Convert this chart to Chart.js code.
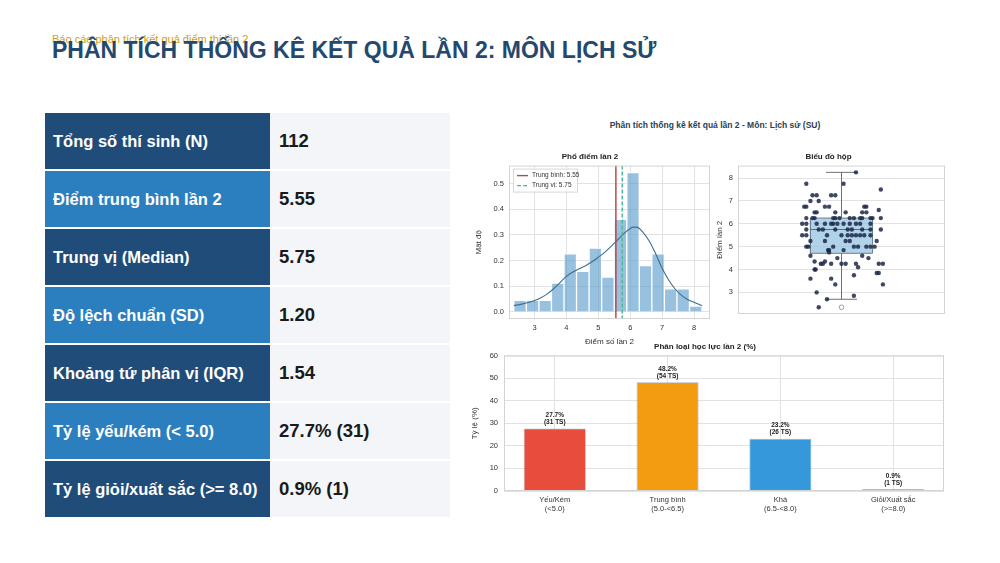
<!DOCTYPE html>
<html>
<head>
<meta charset="utf-8">
<script src="https://cdn.jsdelivr.net/npm/chart.js@4.4.0/dist/chart.umd.min.js"></script>
<style>
body{margin:0;width:1000px;height:563px;background:#fff;position:relative;overflow:hidden;font-family:"Liberation Sans",Arial,sans-serif}
.kicker{position:absolute;left:52px;top:33px;font-size:11px;color:#c9a227;white-space:nowrap}
h1{position:absolute;left:52px;top:39px;margin:0;font-size:23px;line-height:23px;font-weight:bold;color:#23496f;white-space:nowrap}
#stats{position:absolute;left:45px;top:113px;width:405px}
.row{display:flex;height:56px;margin-bottom:2px}
.row .k{width:225px;color:#fff;font-weight:bold;font-size:16.5px;display:flex;align-items:center;padding-left:8px;box-sizing:border-box}
.row .v{flex:1;background:#f3f5f9;color:#1a1a1a;font-weight:bold;font-size:18.5px;display:flex;align-items:center;padding-left:9px}
.supt{position:absolute;left:460px;width:510px;top:120px;text-align:center;font-size:8.5px;font-weight:bold;color:#2c3e50}
canvas{position:absolute}
#hist{left:470px;top:148px}
#box{left:712px;top:148px}
#bars{left:466px;top:338px}
</style>
</head>
<body>
<div class="kicker">Báo cáo phân tích kết quả điểm thi lần 2</div>
<h1>PHÂN TÍCH THỐNG KÊ KẾT QUẢ LẦN 2: MÔN LỊCH SỬ</h1>
<div id="stats"></div>
<div class="supt">Phân tích thống kê kết quả lần 2 - Môn: Lịch sử (SU)</div>
<canvas id="hist" width="245" height="200"></canvas>
<canvas id="box" width="243" height="200"></canvas>
<canvas id="bars" width="490" height="185"></canvas>
<script>
// summary table
const statLabels = ['Tổng số thí sinh (N)', 'Điểm trung bình lần 2', 'Trung vị (Median)', 'Độ lệch chuẩn (SD)',
    'Khoảng tứ phân vị (IQR)', 'Tỷ lệ yếu/kém (< 5.0)', 'Tỷ lệ giỏi/xuất sắc (>= 8.0)'];
const statValues = ['112', '5.55', '5.75', '1.20', '1.54', '27.7% (31)', '0.9% (1)'];

// histogram
const binCenters = [2.547, 2.940, 3.333, 3.727, 4.120, 4.513, 4.907, 5.300, 5.693, 6.087, 6.480, 6.873, 7.267, 7.660, 8.053];
const binDensity = [0.045, 0.045, 0.045, 0.112, 0.226, 0.158, 0.248, 0.135, 0.361, 0.543, 0.18, 0.226, 0.09, 0.09, 0.022];
const kdeX = [2.35, 2.6, 2.8, 3.0, 3.2, 3.4, 3.6, 3.8, 4.0, 4.2, 4.4, 4.6, 4.8, 5.0, 5.2, 5.4, 5.6, 5.8, 6.0, 6.1, 6.2, 6.4, 6.6, 6.8, 7.0, 7.2, 7.4, 7.6, 7.8, 8.0, 8.25];
const kdeY = [0.024, 0.03, 0.036, 0.044, 0.055, 0.07, 0.09, 0.114, 0.138, 0.155, 0.168, 0.18, 0.195, 0.213, 0.232, 0.255, 0.28, 0.305, 0.325, 0.33, 0.33, 0.31, 0.275, 0.225, 0.17, 0.125, 0.09, 0.065, 0.048, 0.037, 0.024];
const meanScore = 5.55;
const medianScore = 5.75;
const scoreTicksX = [3, 4, 5, 6, 7, 8];
const densityTicks = [0, 0.1, 0.2, 0.3, 0.4, 0.5];

// box plot: whisker low, q1, median, q3, whisker high
const boxStats = [2.7, 4.71, 5.75, 6.25, 8.25];
const boxOutliers = [2.35];
const stripY = [8.25, 7.75, 7.75, 7.5, 7.25, 7.25, 7.25, 7.25, 7.0, 7.0,
    6.75, 6.75, 6.75, 6.75, 6.75, 6.75, 6.6, 6.5, 6.5, 6.5, 6.5, 6.5, 6.5,
    6.25, 6.25, 6.25, 6.25, 6.25, 6.25, 6.25, 6.25, 6.25, 6.25, 6.25, 6.25, 6.25,
    6.0, 6.0, 6.0, 6.0, 6.0, 6.0, 6.0, 6.0, 6.0, 6.0, 6.0, 6.0,
    5.75, 5.75, 5.75, 5.75, 5.75, 5.75, 5.75, 5.75, 5.75,
    5.5, 5.5, 5.5, 5.5, 5.5, 5.5, 5.5, 5.5, 5.5, 5.5,
    5.25, 5.25, 5.25, 5.25, 5.25,
    5.0, 5.0, 5.0, 5.0, 5.0, 5.0, 5.0, 5.0,
    4.85, 4.85, 4.85, 4.75, 4.6, 4.6, 4.5, 4.5, 4.35, 4.35,
    4.25, 4.25, 4.25, 4.25, 4.25, 4.25, 4.25, 4.25, 4.1, 4.0, 4.0,
    3.85, 3.85, 3.75, 3.6, 3.6, 3.35, 3.35, 3.0, 2.85, 2.7, 2.35];
const stripX = [0.07, -0.17, 0.01, 0.19, -0.14, -0.12, -0.05, -0.03, -0.15, -0.11,
    -0.18, -0.17, -0.08, -0.06, 0.11, 0.12, 0.18, -0.13, -0.12, -0.03, 0.02, 0.10, 0.12,
    -0.17, -0.14, -0.13, -0.04, -0.03, -0.01, 0.04, 0.06, 0.09, 0.10, 0.14, 0.15, 0.19,
    -0.19, -0.17, -0.12, -0.08, -0.05, -0.04, -0.02, 0.01, 0.04, 0.07, 0.09, 0.14,
    -0.17, -0.11, -0.09, -0.03, 0.03, 0.05, 0.10, 0.14, 0.19,
    -0.19, -0.17, -0.07, 0.0, 0.03, 0.05, 0.07, 0.09, 0.11, 0.14,
    -0.15, -0.08, 0.02, 0.04, 0.17,
    -0.17, -0.16, -0.04, 0.06, 0.08, 0.12, 0.14, 0.16,
    -0.065, -0.06, 0.01, -0.06, -0.15, 0.10, -0.02, 0.13, -0.13, -0.08,
    -0.10, -0.09, -0.05, 0.0, 0.02, 0.07, 0.18, 0.20, 0.08, -0.13, -0.125,
    0.17, 0.18, 0.06, -0.15, -0.05, -0.03, 0.20, -0.12, 0.06, -0.07, -0.11];
const scoreTicksY = [3, 4, 5, 6, 7, 8];

// classification bars
const levelNames = ['Yếu/Kém', 'Trung bình', 'Khá', 'Giỏi/Xuất sắc'];
const levelRanges = ['(<5.0)', '(5.0-<6.5)', '(6.5-<8.0)', '(>=8.0)'];
const levelPct = [27.7, 48.2, 23.2, 0.9];
const levelCount = [31, 54, 26, 1];
const levelColors = ['#e74c3c', '#f39c12', '#3498db', '#2ecc71'];
const pctTicks = [0, 10, 20, 30, 40, 50, 60];

// table
const stats = document.getElementById('stats');
statLabels.forEach((label, i) => {
    const row = document.createElement('div');
    row.className = 'row';
    row.innerHTML = '<div class="k" style="background:' + (i % 2 ? '#2b7fbf' : '#1f4c78') + '">' + label +
        '</div><div class="v">' + statValues[i] + '</div>';
    stats.appendChild(row);
});

Chart.defaults.font.family = '"Liberation Sans", Arial, sans-serif';
Chart.defaults.font.size = 7.5;
Chart.defaults.color = '#333';
Chart.defaults.animation = false;
Chart.defaults.plugins.legend.display = false;
Chart.defaults.plugins.tooltip.enabled = false;

const GRID = '#e2e2e2';
const frame = {
    id: 'frame',
    afterDraw(chart) {
        const a = chart.chartArea, c = chart.ctx;
        c.save();
        c.strokeStyle = '#d4d4d4';
        c.lineWidth = 1;
        c.strokeRect(a.left + 0.5, a.top + 0.5, a.right - a.left - 1, a.bottom - a.top - 1);
        c.restore();
    }
};
const titleOpts = (text) => ({
    display: true, text: text, color: '#222',
    font: { size: 8, weight: 'bold' }, padding: { top: 4, bottom: 4 }
});
const fixTicks = (list) => (scale) => { scale.ticks = list.map(v => ({ value: v })); };

// histogram chart
const histLegend = {
    id: 'histLegend',
    afterDraw(chart) {
        const a = chart.chartArea, c = chart.ctx;
        const x = a.left + 4, y = a.top + 3;
        c.save();
        c.fillStyle = 'rgba(255,255,255,0.85)';
        c.strokeStyle = '#d8d8d8';
        c.lineWidth = 1;
        c.fillRect(x, y, 64, 23);
        c.strokeRect(x + 0.5, y + 0.5, 64, 23);
        c.font = '6.5px "Liberation Sans", Arial, sans-serif';
        c.textBaseline = 'middle';
        const items = [['#b84a4a', [], 'Trung bình: ' + meanScore.toFixed(2)],
                       ['#4cb89a', [4, 2], 'Trung vị: ' + medianScore.toFixed(2)]];
        items.forEach((it, i) => {
            const yy = y + 7 + i * 10;
            c.strokeStyle = it[0];
            c.lineWidth = 1.4;
            c.setLineDash(it[1]);
            c.beginPath(); c.moveTo(x + 4, yy); c.lineTo(x + 15, yy); c.stroke();
            c.setLineDash([]);
            c.fillStyle = '#333';
            c.fillText(it[2], x + 19, yy);
        });
        c.restore();
    }
};

new Chart(document.getElementById('hist'), {
    type: 'bar',
    data: {
        datasets: [
            {
                type: 'line', order: 0, data: [{ x: meanScore, y: -0.03 }, { x: meanScore, y: 0.6 }],
                borderColor: '#b84a4a', borderWidth: 1.5, pointRadius: 0
            },
            {
                type: 'line', order: 0, data: [{ x: medianScore, y: -0.03 }, { x: medianScore, y: 0.6 }],
                borderColor: '#4cb89a', borderWidth: 1.5, borderDash: [4, 2], pointRadius: 0
            },
            {
                type: 'line', order: 1, data: kdeX.map((x, i) => ({ x: x, y: kdeY[i] })),
                borderColor: '#3b6f93', borderWidth: 1.1, pointRadius: 0, tension: 0.4, cubicInterpolationMode: 'monotone'
            },
            {
                type: 'bar', order: 2, data: binCenters.map((x, i) => ({ x: x, y: binDensity[i] })),
                backgroundColor: 'rgba(84,150,202,0.6)', borderColor: '#ffffff', borderWidth: 1,
                barPercentage: 1, categoryPercentage: 1
            }
        ]
    },
    options: {
        responsive: false,
        layout: { padding: { right: 5 } },
        plugins: { title: titleOpts('Phổ điểm lần 2') },
        scales: {
            x: {
                type: 'linear', min: 2.2, max: 8.5, offset: false,
                afterBuildTicks: fixTicks(scoreTicksX),
                afterFit: (s) => { s.height = 29; },
                grid: { color: GRID, offset: false, drawTicks: false },
                border: { display: false },
                ticks: { padding: 4 },
                title: { display: true, text: 'Điểm số lần 2', font: { size: 8 }, padding: 1 }
            },
            y: {
                min: -0.028, max: 0.57,
                afterBuildTicks: fixTicks(densityTicks),
                afterFit: (s) => { s.width = 39; },
                grid: { color: GRID, drawTicks: false },
                border: { display: false },
                ticks: { padding: 5, callback: (v) => v.toFixed(1) },
                title: { display: true, text: 'Mật độ', font: { size: 8 }, padding: { top: 4, bottom: 1 } }
            }
        }
    },
    plugins: [frame, histLegend]
});

// box plot chart
const boxHalf = 0.15, capHalf = 0.075;
const [wLow, q1, med, q3, wHigh] = boxStats;
const gap = { x: 0, y: null };
new Chart(document.getElementById('box'), {
    type: 'line',
    data: {
        datasets: [
            {
                order: 0, data: stripX.map((x, i) => ({ x: x, y: stripY[i] })), showLine: false,
                pointRadius: 2.2, pointBackgroundColor: 'rgba(28,40,72,0.85)', pointBorderWidth: 0
            },
            {
                order: 1, data: boxOutliers.map(y => ({ x: 0, y: y })), showLine: false,
                pointRadius: 2.3, pointBackgroundColor: '#ffffff', pointBorderColor: '#888', pointBorderWidth: 0.8
            },
            {
                order: 2, data: [{ x: -boxHalf, y: med }, { x: boxHalf, y: med }],
                borderColor: '#4f6f86', borderWidth: 1, pointRadius: 0
            },
            {
                order: 3, data: [{ x: -boxHalf, y: q1 }, { x: boxHalf, y: q1 }, { x: boxHalf, y: q3 },
                    { x: -boxHalf, y: q3 }, { x: -boxHalf, y: q1 }],
                borderColor: '#6b7f8e', borderWidth: 1, backgroundColor: 'rgba(150,196,226,0.75)',
                fill: 'shape', pointRadius: 0, tension: 0
            },
            {
                order: 4, data: [{ x: 0, y: q1 }, { x: 0, y: wLow }, gap, { x: 0, y: q3 }, { x: 0, y: wHigh }, gap,
                    { x: -capHalf, y: wLow }, { x: capHalf, y: wLow }, gap, { x: -capHalf, y: wHigh }, { x: capHalf, y: wHigh }],
                borderColor: '#6b7278', borderWidth: 1, pointRadius: 0, spanGaps: false
            }
        ]
    },
    options: {
        responsive: false,
        layout: { padding: { right: 10, bottom: 34 } },
        plugins: { title: titleOpts('Biểu đồ hộp') },
        scales: {
            x: { type: 'linear', min: -0.5, max: 0.5, display: false },
            y: {
                min: 2.055, max: 8.545,
                afterBuildTicks: fixTicks(scoreTicksY),
                afterFit: (s) => { s.width = 26; },
                grid: { color: GRID, drawTicks: false },
                border: { display: false },
                ticks: { padding: 5 },
                title: { display: true, text: 'Điểm lần 2', font: { size: 8 }, padding: { top: 3, bottom: 0 } }
            }
        }
    },
    plugins: [frame]
});

// classification bar chart
const barLabels = {
    id: 'barLabels',
    afterDatasetsDraw(chart) {
        const c = chart.ctx;
        const meta = chart.getDatasetMeta(0);
        c.save();
        c.font = 'bold 6.5px "Liberation Sans", Arial, sans-serif';
        c.fillStyle = '#222';
        c.textAlign = 'center';
        c.textBaseline = 'bottom';
        meta.data.forEach((el, i) => {
            c.fillText(levelPct[i].toFixed(1) + '%', el.x, el.y - 10);
            c.fillText('(' + levelCount[i] + ' TS)', el.x, el.y - 3);
        });
        c.restore();
    }
};

new Chart(document.getElementById('bars'), {
    type: 'bar',
    data: {
        datasets: [{
            data: levelPct.map((v, i) => ({ x: i, y: v })),
            backgroundColor: levelColors, borderColor: 'rgba(90,90,90,0.45)', borderWidth: 0.8,
            barPercentage: 0.55, categoryPercentage: 1
        }]
    },
    options: {
        responsive: false,
        layout: { padding: { right: 12 } },
        plugins: { title: titleOpts('Phân loại học lực lần 2 (%)') },
        scales: {
            x: {
                type: 'linear', min: -0.45, max: 3.45, offset: false,
                afterBuildTicks: fixTicks(levelNames.map((n, i) => i)),
                afterFit: (s) => { s.height = 32; },
                grid: { color: GRID, offset: false, drawTicks: false },
                border: { display: false },
                ticks: { padding: 4, font: { size: 7.5 }, callback: (v, i) => [levelNames[i], levelRanges[i]] }
            },
            y: {
                min: 0, max: 60,
                afterBuildTicks: fixTicks(pctTicks),
                afterFit: (s) => { s.width = 38; },
                grid: { color: GRID, drawTicks: false },
                border: { display: false },
                ticks: { padding: 6 },
                title: { display: true, text: 'Tỷ lệ (%)', font: { size: 8 }, padding: { top: 4, bottom: 1 } }
            }
        }
    },
    plugins: [frame, barLabels]
});
</script>
</body>
</html>
